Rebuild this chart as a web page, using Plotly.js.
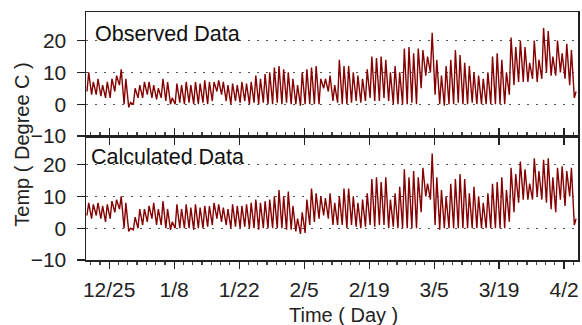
<!DOCTYPE html>
<html>
<head>
<meta charset="utf-8">
<script src="https://cdn.plot.ly/plotly-3.0.1.min.js"></script>
<style>html,body{margin:0;padding:0;background:#fff;}#chart{width:582px;height:325px;}</style>
</head>
<body>
<div id="chart"></div>
<script>
// Daily series (day 0 = 2006-12-20)
const startDay = '2006-12-20';
const xTickStart = '2006-12-25';

const obsMax = [10,7,8,6,7,8,9,11,8,0.5, 5,6,7,7,6,5,8,7,2,6.5, 6,7,6,7,6.5,7.5,7,7,7.5,7, 6,6.5,6,7,6.5,7,9,8,9.5,10, 11.5,12,11,10,8,6,10,11,11.5,12, 8,8,9,6,14,12,12,10,9,8, 11,15,14.5,15,14,10,12,10,17.5,18, 16,17.5,17,15,22.5,14,9,12,14,17, 15.5,13,12,10,9,8,10,15,16,14, 10,21,18,20,18,13,20,14,24,23, 15,20,16,19,17,4];
const obsMin = [4,3,3,2.5,2,2,4,6,0,-1, 0,2,2,3,2,1.5,2,1,0,0, 0.5,0,0.5,0,0,0.5,0,1,4,3, 1,0,1,0.5,1,0,0.5,0,0.5,0, 0,0.5,0,0.5,0,0,-0.5,0,0,0, 0,5,4,1,0.5,0,0,0.5,1,0.5, 1,2,1,1,2,1,0,0,0,0, 0.5,0,5,9,10,3,0,-0.5,0,0, 0.5,0,0,0.5,0,0,0,0,0,0, 0,3,6,7,7,7,8,7,8,10, 9,9,10,8,6,2];
const calcMax = [8,7.5,8,7,7.5,8.5,9,10,8,0, 3.5,6,6,7,8,6,8.5,6,2,7.5, 6,7.5,6.5,7.5,6.5,7,7,8,7.5,6.5, 6,7.5,7,7,7.5,8,9,8,8.5,9, 10,12,10,11.5,7,3,5,9,12.5,11, 10,9.5,11,8,10,12.5,12.5,10,8,9, 11,15.5,16,14.5,16,9,11,13,18.5,16, 18,16,19,14,23.5,16,12,10,14,15.5, 17,15.5,11,13,10,8,11,14,14.5,16, 12,19,17,21,18.5,14,22,18,21.5,22, 16,19,19.5,18,19,3];
const calcMin = [4,3,4,3,2,3,5,6,0,-1, -0.5,0,1,2,3,1,1,0,-0.5,0, 0,0,0,-0.5,0,0,0.5,1,3,2, 1,0,0.5,0,0.5,0,0,-0.5,0,0, 0,0,0,-0.5,-0.5,-1,-1.8,-1.5,1,2, 3,4,3,1,1,1,0,1,0.5,0, 0.5,1,0.5,1,1,0,0.5,0,0,0, 0,0,5,10,9,1,-0.5,0,0,0, 0,0,0,0,0,0,0,0,0,0, 0,2,5,8,9,9,9,10,9,8, 6,5,9,7,10,1];

const panelLabels = ['Observed Data', 'Calculated Data'];
const tickFmt = '%-m/%-d';

function pad(n){return (n<10?'0':'')+n;}
function stamp(dayIndex, hour){
  const p = startDay.split('-').map(Number);
  const d = new Date(Date.UTC(p[0], p[1]-1, p[2] + dayIndex, hour));
  return d.getUTCFullYear()+'-'+pad(d.getUTCMonth()+1)+'-'+pad(d.getUTCDate())+' '+pad(d.getUTCHours())+':00';
}
function series(mins, maxs){
  const x=[], y=[];
  for(let i=0;i<mins.length;i++){
    x.push(stamp(i,5)); y.push(mins[i]);
    x.push(stamp(i,14)); y.push(maxs[i]);
  }
  return {x,y};
}
const obs = series(obsMin, obsMax);
const calc = series(calcMin, calcMax);
const lineColor = '#850000';

const traces = [
  {x: obs.x, y: obs.y, xaxis:'x2', yaxis:'y2', type:'scatter', mode:'lines', line:{color:lineColor, width:1.4}, hoverinfo:'skip'},
  {x: calc.x, y: calc.y, xaxis:'x', yaxis:'y', type:'scatter', mode:'lines', line:{color:lineColor, width:1.4}, hoverinfo:'skip'}
];

const axisColor = '#222';
const yCommon = {range:[-10,29], tick0:0, dtick:10, ticks:'outside', ticklen:8, tickwidth:1.2, tickcolor:axisColor,
  showline:true, linecolor:axisColor, linewidth:1.5, mirror:true, showgrid:true, gridcolor:'#555', griddash:'2px,7px', gridwidth:1,
  zeroline:false, ticklabelstandoff:6, tickfont:{size:21, color:'#222'}};
const xCommon = {type:'date', range:[startDay,'2007-04-05'], tick0:xTickStart, dtick:14*864e5, tickformat:tickFmt,
  ticks:'outside', ticklen:7, tickwidth:1.2, tickcolor:axisColor, showline:true, linecolor:axisColor, linewidth:1.5,
  showgrid:false, zeroline:false, ticklabelstandoff:3, tickfont:{size:21, color:'#222'}};

const layout = {
  width:582, height:325,
  margin:{l:86, r:4, t:12, b:65},
  paper_bgcolor:'#fff', plot_bgcolor:'#fff',
  showlegend:false,
  font:{family:'Liberation Sans, Arial, sans-serif', size:18, color:'#222'},
  xaxis: Object.assign({}, xCommon, {domain:[0,1], anchor:'y', mirror:'ticks',
    minor:{dtick:2*864e5, tick0:xTickStart, ticks:'outside', ticklen:3, tickcolor:'#444'}}),
  yaxis: Object.assign({}, yCommon, {domain:[0,0.5], anchor:'x'}),
  xaxis2: Object.assign({}, xCommon, {domain:[0,1], anchor:'y2', matches:'x', showticklabels:false, mirror:true}),
  yaxis2: Object.assign({}, yCommon, {domain:[0.5,1], anchor:'x2'}),
  annotations:[
    {text:panelLabels[0], xref:'paper', yref:'paper', x:0.014, y:0.913, xanchor:'left', yanchor:'middle', showarrow:false, font:{size:21.5, color:'#111'}},
    {text:panelLabels[1], xref:'paper', yref:'paper', x:0.006, y:0.415, xanchor:'left', yanchor:'middle', showarrow:false, font:{size:21.5, color:'#111'}},
    {text:'Temp ( Degree C )', xref:'paper', yref:'paper', x:-0.13, y:0.465, xanchor:'center', yanchor:'middle', textangle:-90, showarrow:false, font:{size:20, color:'#222'}},
    {text:'Time ( Day )', xref:'paper', yref:'paper', x:0.524, y:-0.222, xanchor:'center', yanchor:'middle', showarrow:false, font:{size:20, color:'#222'}}
  ]
};

Plotly.newPlot('chart', traces, layout, {staticPlot:true, displayModeBar:false});
</script>
</body>
</html>
